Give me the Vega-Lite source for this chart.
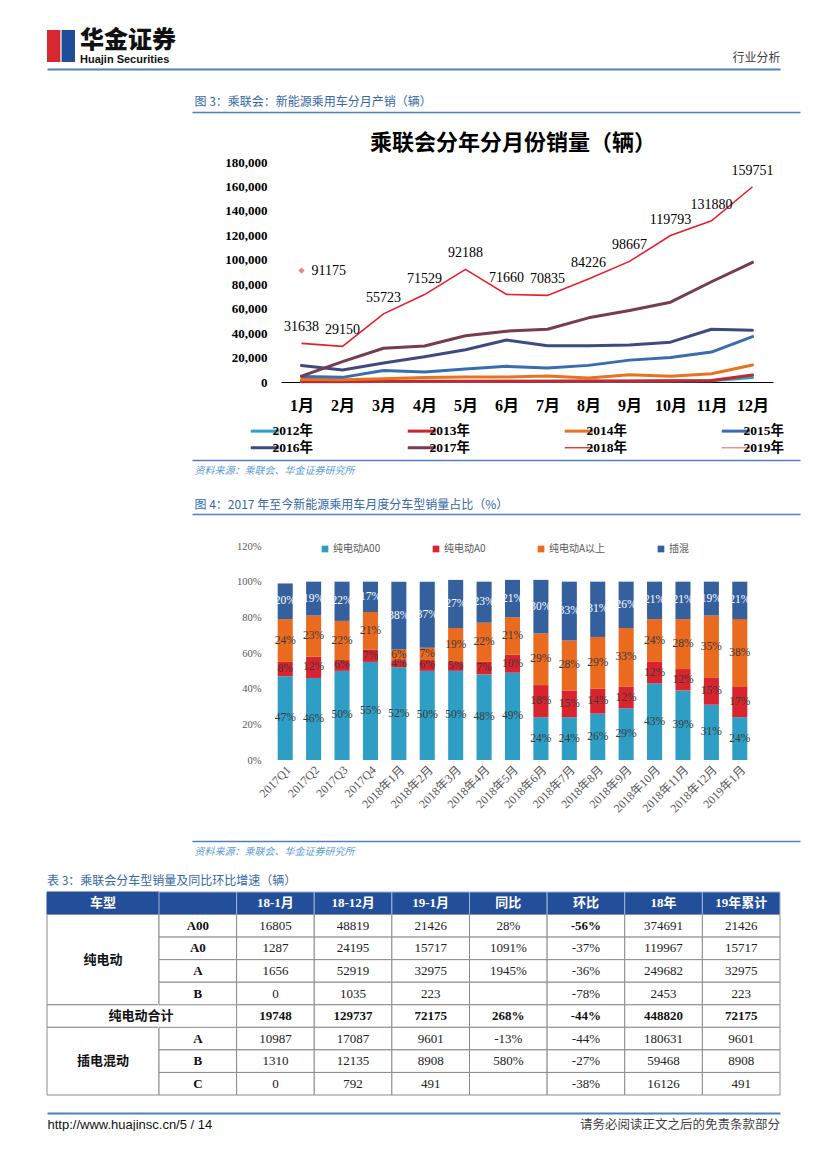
{
  "$schema": "https://vega.github.io/schema/vega-lite/v6.json",
  "background": "white",
  "padding": 0,
  "spacing": 0,
  "bounds": "flush",
  "config": {"view": {"stroke": null}, "axis": {"grid": false}},
  "resolve": {"scale": {"color": "independent", "fill": "independent"}, "legend": {"color": "independent"}},
  "datasets": {
    "lines": [
      {"year": "2012年", "month": "1月", "sales": 250}, {"year": "2012年", "month": "2月", "sales": 200}, {"year": "2012年", "month": "3月", "sales": 350}, {"year": "2012年", "month": "4月", "sales": 400}, {"year": "2012年", "month": "5月", "sales": 500}, {"year": "2012年", "month": "6月", "sales": 600}, {"year": "2012年", "month": "7月", "sales": 550}, {"year": "2012年", "month": "8月", "sales": 650}, {"year": "2012年", "month": "9月", "sales": 700}, {"year": "2012年", "month": "10月", "sales": 800}, {"year": "2012年", "month": "11月", "sales": 1100}, {"year": "2012年", "month": "12月", "sales": 3600},
      {"year": "2013年", "month": "1月", "sales": 450}, {"year": "2013年", "month": "2月", "sales": 350}, {"year": "2013年", "month": "3月", "sales": 550}, {"year": "2013年", "month": "4月", "sales": 650}, {"year": "2013年", "month": "5月", "sales": 550}, {"year": "2013年", "month": "6月", "sales": 650}, {"year": "2013年", "month": "7月", "sales": 700}, {"year": "2013年", "month": "8月", "sales": 800}, {"year": "2013年", "month": "9月", "sales": 850}, {"year": "2013年", "month": "10月", "sales": 950}, {"year": "2013年", "month": "11月", "sales": 1200}, {"year": "2013年", "month": "12月", "sales": 5800},
      {"year": "2014年", "month": "1月", "sales": 2000}, {"year": "2014年", "month": "2月", "sales": 1800}, {"year": "2014年", "month": "3月", "sales": 2700}, {"year": "2014年", "month": "4月", "sales": 3700}, {"year": "2014年", "month": "5月", "sales": 4000}, {"year": "2014年", "month": "6月", "sales": 4000}, {"year": "2014年", "month": "7月", "sales": 5000}, {"year": "2014年", "month": "8月", "sales": 3300}, {"year": "2014年", "month": "9月", "sales": 6000}, {"year": "2014年", "month": "10月", "sales": 4800}, {"year": "2014年", "month": "11月", "sales": 6800}, {"year": "2014年", "month": "12月", "sales": 13900},
      {"year": "2015年", "month": "1月", "sales": 4600}, {"year": "2015年", "month": "2月", "sales": 3800}, {"year": "2015年", "month": "3月", "sales": 9400}, {"year": "2015年", "month": "4月", "sales": 8200}, {"year": "2015年", "month": "5月", "sales": 10600}, {"year": "2015年", "month": "6月", "sales": 12800}, {"year": "2015年", "month": "7月", "sales": 11400}, {"year": "2015年", "month": "8月", "sales": 13600}, {"year": "2015年", "month": "9月", "sales": 17900}, {"year": "2015年", "month": "10月", "sales": 20100}, {"year": "2015年", "month": "11月", "sales": 24500}, {"year": "2015年", "month": "12月", "sales": 37200},
      {"year": "2016年", "month": "1月", "sales": 13500}, {"year": "2016年", "month": "2月", "sales": 9900}, {"year": "2016年", "month": "3月", "sales": 15500}, {"year": "2016年", "month": "4月", "sales": 20700}, {"year": "2016年", "month": "5月", "sales": 26400}, {"year": "2016年", "month": "6月", "sales": 34300}, {"year": "2016年", "month": "7月", "sales": 29600}, {"year": "2016年", "month": "8月", "sales": 29600}, {"year": "2016年", "month": "9月", "sales": 30200}, {"year": "2016年", "month": "10月", "sales": 32600}, {"year": "2016年", "month": "11月", "sales": 43200}, {"year": "2016年", "month": "12月", "sales": 42400},
      {"year": "2017年", "month": "1月", "sales": 4800}, {"year": "2017年", "month": "2月", "sales": 16700}, {"year": "2017年", "month": "3月", "sales": 27600}, {"year": "2017年", "month": "4月", "sales": 29400}, {"year": "2017年", "month": "5月", "sales": 37800}, {"year": "2017年", "month": "6月", "sales": 41600}, {"year": "2017年", "month": "7月", "sales": 43200}, {"year": "2017年", "month": "8月", "sales": 52500}, {"year": "2017年", "month": "9月", "sales": 58500}, {"year": "2017年", "month": "10月", "sales": 65300}, {"year": "2017年", "month": "11月", "sales": 82000}, {"year": "2017年", "month": "12月", "sales": 97900},
      {"year": "2018年", "month": "1月", "sales": 31638}, {"year": "2018年", "month": "2月", "sales": 29150}, {"year": "2018年", "month": "3月", "sales": 55723}, {"year": "2018年", "month": "4月", "sales": 71529}, {"year": "2018年", "month": "5月", "sales": 92188}, {"year": "2018年", "month": "6月", "sales": 71660}, {"year": "2018年", "month": "7月", "sales": 70835}, {"year": "2018年", "month": "8月", "sales": 84226}, {"year": "2018年", "month": "9月", "sales": 98667}, {"year": "2018年", "month": "10月", "sales": 119793}, {"year": "2018年", "month": "11月", "sales": 131880}, {"year": "2018年", "month": "12月", "sales": 159751},
      {"year": "2019年", "month": "1月", "sales": 91175}
    ],
    "bars": [
      {"period": "2017Q1", "type": "纯电动A00", "share": 0.47}, {"period": "2017Q1", "type": "纯电动A0", "share": 0.08}, {"period": "2017Q1", "type": "纯电动A以上", "share": 0.24}, {"period": "2017Q1", "type": "插混", "share": 0.20},
      {"period": "2017Q2", "type": "纯电动A00", "share": 0.46}, {"period": "2017Q2", "type": "纯电动A0", "share": 0.12}, {"period": "2017Q2", "type": "纯电动A以上", "share": 0.23}, {"period": "2017Q2", "type": "插混", "share": 0.19},
      {"period": "2017Q3", "type": "纯电动A00", "share": 0.50}, {"period": "2017Q3", "type": "纯电动A0", "share": 0.06}, {"period": "2017Q3", "type": "纯电动A以上", "share": 0.22}, {"period": "2017Q3", "type": "插混", "share": 0.22},
      {"period": "2017Q4", "type": "纯电动A00", "share": 0.55}, {"period": "2017Q4", "type": "纯电动A0", "share": 0.07}, {"period": "2017Q4", "type": "纯电动A以上", "share": 0.21}, {"period": "2017Q4", "type": "插混", "share": 0.17},
      {"period": "2018年1月", "type": "纯电动A00", "share": 0.52}, {"period": "2018年1月", "type": "纯电动A0", "share": 0.04}, {"period": "2018年1月", "type": "纯电动A以上", "share": 0.06}, {"period": "2018年1月", "type": "插混", "share": 0.38},
      {"period": "2018年2月", "type": "纯电动A00", "share": 0.50}, {"period": "2018年2月", "type": "纯电动A0", "share": 0.06}, {"period": "2018年2月", "type": "纯电动A以上", "share": 0.07}, {"period": "2018年2月", "type": "插混", "share": 0.37},
      {"period": "2018年3月", "type": "纯电动A00", "share": 0.50}, {"period": "2018年3月", "type": "纯电动A0", "share": 0.05}, {"period": "2018年3月", "type": "纯电动A以上", "share": 0.19}, {"period": "2018年3月", "type": "插混", "share": 0.27},
      {"period": "2018年4月", "type": "纯电动A00", "share": 0.48}, {"period": "2018年4月", "type": "纯电动A0", "share": 0.07}, {"period": "2018年4月", "type": "纯电动A以上", "share": 0.22}, {"period": "2018年4月", "type": "插混", "share": 0.23},
      {"period": "2018年5月", "type": "纯电动A00", "share": 0.49}, {"period": "2018年5月", "type": "纯电动A0", "share": 0.10}, {"period": "2018年5月", "type": "纯电动A以上", "share": 0.21}, {"period": "2018年5月", "type": "插混", "share": 0.21},
      {"period": "2018年6月", "type": "纯电动A00", "share": 0.24}, {"period": "2018年6月", "type": "纯电动A0", "share": 0.18}, {"period": "2018年6月", "type": "纯电动A以上", "share": 0.29}, {"period": "2018年6月", "type": "插混", "share": 0.30},
      {"period": "2018年7月", "type": "纯电动A00", "share": 0.24}, {"period": "2018年7月", "type": "纯电动A0", "share": 0.15}, {"period": "2018年7月", "type": "纯电动A以上", "share": 0.28}, {"period": "2018年7月", "type": "插混", "share": 0.33},
      {"period": "2018年8月", "type": "纯电动A00", "share": 0.26}, {"period": "2018年8月", "type": "纯电动A0", "share": 0.14}, {"period": "2018年8月", "type": "纯电动A以上", "share": 0.29}, {"period": "2018年8月", "type": "插混", "share": 0.31},
      {"period": "2018年9月", "type": "纯电动A00", "share": 0.29}, {"period": "2018年9月", "type": "纯电动A0", "share": 0.12}, {"period": "2018年9月", "type": "纯电动A以上", "share": 0.33}, {"period": "2018年9月", "type": "插混", "share": 0.26},
      {"period": "2018年10月", "type": "纯电动A00", "share": 0.43}, {"period": "2018年10月", "type": "纯电动A0", "share": 0.12}, {"period": "2018年10月", "type": "纯电动A以上", "share": 0.24}, {"period": "2018年10月", "type": "插混", "share": 0.21},
      {"period": "2018年11月", "type": "纯电动A00", "share": 0.39}, {"period": "2018年11月", "type": "纯电动A0", "share": 0.12}, {"period": "2018年11月", "type": "纯电动A以上", "share": 0.28}, {"period": "2018年11月", "type": "插混", "share": 0.21},
      {"period": "2018年12月", "type": "纯电动A00", "share": 0.31}, {"period": "2018年12月", "type": "纯电动A0", "share": 0.15}, {"period": "2018年12月", "type": "纯电动A以上", "share": 0.35}, {"period": "2018年12月", "type": "插混", "share": 0.19},
      {"period": "2019年1月", "type": "纯电动A00", "share": 0.24}, {"period": "2019年1月", "type": "纯电动A0", "share": 0.17}, {"period": "2019年1月", "type": "纯电动A以上", "share": 0.38}, {"period": "2019年1月", "type": "插混", "share": 0.21}
    ],
    "table": [
      {"row": "表头", "c1": "", "m1801": "18-1月", "m1812": "18-12月", "m1901": "19-1月", "yoy": "同比", "mom": "环比", "y18": "18年", "y19": "19年累计"},
      {"row": "纯电动A00", "c1": "A00", "m1801": "16805", "m1812": "48819", "m1901": "21426", "yoy": "28%", "mom": "-56%", "y18": "374691", "y19": "21426"},
      {"row": "纯电动A0", "c1": "A0", "m1801": "1287", "m1812": "24195", "m1901": "15717", "yoy": "1091%", "mom": "-37%", "y18": "119967", "y19": "15717"},
      {"row": "纯电动A", "c1": "A", "m1801": "1656", "m1812": "52919", "m1901": "32975", "yoy": "1945%", "mom": "-36%", "y18": "249682", "y19": "32975"},
      {"row": "纯电动B", "c1": "B", "m1801": "0", "m1812": "1035", "m1901": "223", "yoy": "", "mom": "-78%", "y18": "2453", "y19": "223"},
      {"row": "纯电动合计", "c1": "", "m1801": "19748", "m1812": "129737", "m1901": "72175", "yoy": "268%", "mom": "-44%", "y18": "448820", "y19": "72175"},
      {"row": "插电混动A", "c1": "A", "m1801": "10987", "m1812": "17087", "m1901": "9601", "yoy": "-13%", "mom": "-44%", "y18": "180631", "y19": "9601"},
      {"row": "插电混动B", "c1": "B", "m1801": "1310", "m1812": "12135", "m1901": "8908", "yoy": "580%", "mom": "-27%", "y18": "59468", "y19": "8908"},
      {"row": "插电混动C", "c1": "C", "m1801": "0", "m1812": "792", "m1901": "491", "yoy": "", "mom": "-38%", "y18": "16126", "y19": "491"}
    ],
    "groups": [
      {"g": "车型", "a": 0, "b": 1},
      {"g": "纯电动", "a": 1, "b": 5},
      {"g": "纯电动合计", "a": 5, "b": 6},
      {"g": "插电混动", "a": 6, "b": 9}
    ]
  },
  "vconcat": [
    {
      "width": 827, "height": 69,
      "title": {"text": "华金证券", "subtitle": "Huajin Securities", "anchor": "start", "frame": "group", "orient": "top", "offset": 0, "dx": 80, "dy": 65, "font": "Noto Sans CJK SC", "fontSize": 24, "fontWeight": 900, "color": "#111111", "subtitleFont": "Liberation Sans", "subtitleFontSize": 11, "subtitleFontWeight": "bold", "subtitleColor": "#111111", "subtitlePadding": 1},
      "layer": [
        {
          "data": {"values": [{"part": "左"}, {"part": "右"}]},
          "mark": {"type": "rect"},
          "encoding": {
            "x": {"field": "part", "type": "nominal", "scale": {"domain": ["左", "右"], "range": [47, 75], "paddingInner": 0.08, "paddingOuter": 0}, "axis": null},
            "y": {"datum": "logo", "type": "nominal", "scale": {"domain": ["logo"], "range": [30, 62], "paddingInner": 0, "paddingOuter": 0}, "axis": null},
            "fill": {"field": "part", "type": "nominal", "scale": {"domain": ["左", "右"], "range": ["#D7282F", "#1E4E97"]}, "legend": null}
          }
        },
        {
          "data": {"values": []},
          "mark": "rule",
          "encoding": {
            "x": {"field": "p", "type": "quantitative", "scale": {"domain": [0, 1], "range": [47, 780]},
              "axis": {"orient": "bottom", "domain": true, "domainColor": "#4F81BD", "domainWidth": 2, "ticks": false, "labels": false, "grid": false, "title": "行业分析", "titleX": 780, "titleY": -12, "titleAlign": "right", "titleBaseline": "middle", "titleAngle": 0, "titleFont": "Noto Sans CJK SC", "titleFontSize": 12, "titleFontWeight": "normal", "titleColor": "#404040"}}
          }
        }
      ],
      "resolve": {"scale": {"x": "independent"}}
    },
    {
      "width": 827, "height": 43,
      "data": {"values": []},
      "mark": "rule",
      "encoding": {
        "x": {"field": "p", "type": "quantitative", "scale": {"domain": [0, 1], "range": [192, 800]},
          "axis": {"orient": "bottom", "domain": true, "domainColor": "#4F81BD", "domainWidth": 1.5, "ticks": false, "labels": false, "grid": false, "title": "图 3：乘联会：新能源乘用车分月产销（辆）", "titleX": 194, "titleY": -11, "titleAlign": "left", "titleBaseline": "middle", "titleAngle": 0, "titleFont": "Noto Sans CJK SC", "titleFontSize": 12, "titleFontWeight": "normal", "titleColor": "#3567A8"}}
      }
    },
    {
      "width": 827, "height": 348,
      "title": {"text": "乘联会分年分月份销量（辆）", "anchor": "start", "frame": "group", "orient": "top", "offset": 0, "dx": 370, "dy": 65, "baseline": "bottom", "font": "Noto Sans CJK SC", "fontSize": 22, "fontWeight": "bold", "color": "#000000"},
      "data": {"name": "lines"},
      "encoding": {
        "x": {"field": "month", "type": "ordinal", "sort": null,
          "scale": {"type": "point", "domain": ["1月", "2月", "3月", "4月", "5月", "6月", "7月", "8月", "9月", "10月", "11月", "12月"], "range": [281, 773], "padding": 0.5},
          "axis": {"orient": "bottom", "offset": -78, "domain": true, "domainColor": "#000000", "domainWidth": 1, "ticks": false, "grid": false, "labelAngle": 0, "labelFont": "Liberation Serif, Noto Sans CJK SC", "labelFontSize": 16, "labelFontWeight": "bold", "labelColor": "#000000", "labelPadding": 15, "title": null}},
        "y": {"field": "sales", "type": "quantitative",
          "scale": {"domain": [0, 180000], "range": [270, 50], "nice": false},
          "axis": {"orient": "left", "offset": -270, "values": [0, 20000, 40000, 60000, 80000, 100000, 120000, 140000, 160000, 180000], "format": ",.0f", "ticks": false, "domain": false, "grid": false, "labelFont": "Liberation Serif", "labelFontSize": 13, "labelFontWeight": "bold", "labelColor": "#000000", "labelPadding": 3, "title": null}}
      },
      "layer": [
        {
          "transform": [{"filter": "datum.year !== '2018年' && datum.year !== '2019年'"}],
          "mark": {"type": "line", "strokeWidth": 3, "strokeJoin": "round", "strokeCap": "round"},
          "encoding": {
            "color": {"field": "year", "type": "nominal",
              "scale": {"domain": ["2012年", "2013年", "2014年", "2015年", "2016年", "2017年", "2018年", "2019年"], "range": ["#2E9FC6", "#C8252C", "#E8731F", "#3A6DB0", "#404A7E", "#773C4E", "#E5202A", "#E8848E"]},
              "legend": {"orient": "none", "legendX": 258, "legendY": 312, "columns": 4, "direction": "horizontal", "title": null, "padding": 0, "symbolType": "stroke", "symbolSize": 784, "symbolStrokeWidth": 3, "labelFont": "Liberation Serif, Noto Sans CJK SC", "labelFontSize": 13.5, "labelFontWeight": "bold", "labelColor": "#000000", "labelOffset": 1, "columnPadding": 88, "rowPadding": 2,
                "encode": {"symbols": {"update": {"strokeWidth": {"signal": "datum.label === '2018年' || datum.label === '2019年' ? 1.3 : 3"}}}}}}
          }
        },
        {
          "transform": [{"filter": "datum.year === '2018年'"}],
          "mark": {"type": "line", "strokeWidth": 1.6},
          "encoding": {"color": {"field": "year", "type": "nominal"}}
        },
        {
          "transform": [{"filter": "datum.year === '2018年'"}],
          "mark": {"type": "text", "dy": -16, "baseline": "middle", "font": "Liberation Serif", "fontSize": 14, "color": "#000000"},
          "encoding": {"text": {"field": "sales", "type": "quantitative", "format": "d"}}
        },
        {
          "transform": [{"filter": "datum.year === '2019年'"}],
          "mark": {"type": "point", "shape": "diamond", "filled": true, "size": 40, "opacity": 1},
          "encoding": {"color": {"field": "year", "type": "nominal"}}
        },
        {
          "transform": [{"filter": "datum.year === '2019年'"}],
          "mark": {"type": "text", "align": "left", "dx": 10, "baseline": "middle", "font": "Liberation Serif", "fontSize": 14, "color": "#000000"},
          "encoding": {"text": {"field": "sales", "type": "quantitative", "format": "d"}}
        }
      ]
    },
    {
      "width": 827, "height": 30,
      "data": {"values": []},
      "mark": "rule",
      "encoding": {
        "x": {"field": "p", "type": "quantitative", "scale": {"domain": [0, 1], "range": [192, 800]},
          "axis": {"orient": "top", "domain": true, "domainColor": "#4F81BD", "domainWidth": 1.5, "ticks": false, "labels": false, "grid": false, "title": "资料来源：乘联会、华金证券研究所", "titleX": 194, "titleY": 10, "titleAlign": "left", "titleBaseline": "middle", "titleAngle": 0, "titleFont": "Noto Sans CJK SC", "titleFontSize": 10, "titleFontWeight": "normal", "titleFontStyle": "italic", "titleColor": "#5B9BD5"}}
      }
    },
    {
      "width": 827, "height": 24,
      "data": {"values": []},
      "mark": "rule",
      "encoding": {
        "x": {"field": "p", "type": "quantitative", "scale": {"domain": [0, 1], "range": [192, 800]},
          "axis": {"orient": "bottom", "domain": true, "domainColor": "#4F81BD", "domainWidth": 1.5, "ticks": false, "labels": false, "grid": false, "title": "图 4：2017 年至今新能源乘用车月度分车型销量占比（%）", "titleX": 194, "titleY": -10, "titleAlign": "left", "titleBaseline": "middle", "titleAngle": 0, "titleFont": "Noto Sans CJK SC", "titleFontSize": 12, "titleFontWeight": "normal", "titleColor": "#3567A8"}}
      }
    },
    {
      "width": 827, "height": 327,
      "data": {"name": "bars"},
      "transform": [{"stack": "share", "groupby": ["period"], "as": ["s0", "s1"]}],
      "encoding": {
        "x": {"field": "period", "type": "nominal", "sort": null,
          "scale": {"domain": ["2017Q1", "2017Q2", "2017Q3", "2017Q4", "2018年1月", "2018年2月", "2018年3月", "2018年4月", "2018年5月", "2018年6月", "2018年7月", "2018年8月", "2018年9月", "2018年10月", "2018年11月", "2018年12月", "2019年1月"], "range": [271, 754], "paddingInner": 0.47, "paddingOuter": 0.235},
          "axis": {"orient": "bottom", "offset": -81, "domain": false, "ticks": false, "grid": false, "labelAngle": -45, "labelFont": "Liberation Serif, Noto Sans CJK SC", "labelFontSize": 12, "labelColor": "#595959", "labelPadding": 4, "title": null}}
      },
      "layer": [
        {
          "mark": {"type": "bar"},
          "encoding": {
            "y": {"field": "s0", "type": "quantitative", "scale": {"domain": [0, 1.2], "range": [246, 32], "nice": false},
              "axis": {"orient": "left", "offset": -263, "values": [0, 0.2, 0.4, 0.6, 0.8, 1, 1.2], "format": ".0%", "ticks": false, "domain": false, "grid": false, "labelFont": "Liberation Serif", "labelFontSize": 10.5, "labelColor": "#595959", "labelPadding": 2, "title": null}},
            "y2": {"field": "s1"},
            "color": {"field": "type", "type": "nominal",
              "scale": {"domain": ["纯电动A00", "纯电动A0", "纯电动A以上", "插混"], "range": ["#2E9EC4", "#D9232E", "#EA6A1F", "#35609E"]},
              "legend": {"orient": "none", "legendX": 320, "legendY": 30, "direction": "horizontal", "title": null, "padding": 0, "symbolType": "square", "symbolSize": 45, "labelFont": "Noto Sans CJK SC", "labelFontSize": 10, "labelColor": "#595959", "labelOffset": 3, "columnPadding": 50}}
          }
        },
        {
          "transform": [
            {"fold": ["s0", "s1"], "as": ["edge", "pos"]},
            {"aggregate": [{"op": "mean", "field": "pos", "as": "mid"}], "groupby": ["period", "type", "share"]}
          ],
          "mark": {"type": "text", "baseline": "middle", "font": "Liberation Serif", "fontSize": 11.5},
          "encoding": {
            "y": {"field": "mid", "type": "quantitative"},
            "text": {"field": "share", "type": "quantitative", "format": ".0%"},
            "fill": {"condition": {"test": "datum.type === '插混'", "value": "#FFFFFF"}, "value": "#3A3A3A"}
          }
        }
      ]
    },
    {
      "width": 827, "height": 51,
      "data": {"values": []},
      "mark": "rule",
      "encoding": {
        "x": {"field": "p", "type": "quantitative", "scale": {"domain": [0, 1], "range": [192, 800]},
          "axis": {"orient": "top", "domain": true, "domainColor": "#4F81BD", "domainWidth": 1.5, "ticks": false, "labels": false, "grid": false, "title": "资料来源：乘联会、华金证券研究所", "titleX": 194, "titleY": 10, "titleAlign": "left", "titleBaseline": "middle", "titleAngle": 0, "titleFont": "Noto Sans CJK SC", "titleFontSize": 10, "titleFontWeight": "normal", "titleFontStyle": "italic", "titleColor": "#5B9BD5"}}
      }
    },
    {
      "width": 827, "height": 203,
      "title": {"text": "表 3：乘联会分车型销量及同比环比增速（辆）", "anchor": "start", "frame": "group", "orient": "top", "offset": 6, "dx": 47, "dy": 14, "baseline": "bottom", "font": "Noto Sans CJK SC", "fontSize": 12, "fontWeight": "normal", "color": "#3567A8"},
      "layer": [
        {
          "data": {"name": "groups"},
          "mark": {"type": "rect", "strokeWidth": 1},
          "encoding": {
            "x": {"datum": "车型", "type": "nominal", "scale": {"domain": ["车型"], "range": [47, 159], "paddingInner": 0, "paddingOuter": 0}, "axis": null},
            "y": {"field": "a", "type": "quantitative", "scale": {"domain": [0, 9], "range": [0, 203], "nice": false, "zero": false}, "axis": null},
            "y2": {"field": "b"},
            "fill": {"condition": {"test": "datum.g === '车型'", "value": "#234E99"}, "value": "#FFFFFF"},
            "stroke": {"condition": {"test": "datum.g === '车型'", "value": "#234E99"}, "value": "#8C8C8C"}
          }
        },
        {
          "data": {"values": [{}]},
          "mark": {"type": "rect", "fill": "#FFFFFF", "stroke": "#FFFFFF", "strokeWidth": 2},
          "encoding": {
            "x": {"datum": "c1", "type": "nominal", "scale": {"domain": ["c1", "m1801", "m1812", "m1901", "yoy", "mom", "y18", "y19"], "range": [159, 780], "paddingInner": 0, "paddingOuter": 0}, "axis": null},
            "y": {"datum": "纯电动合计", "type": "nominal", "scale": {"domain": ["表头", "纯电动A00", "纯电动A0", "纯电动A", "纯电动B", "纯电动合计", "插电混动A", "插电混动B", "插电混动C"], "range": [0, 203], "paddingInner": 0, "paddingOuter": 0}, "axis": null}
          }
        },
        {
          "data": {"name": "table"},
          "transform": [
            {"fold": ["c1", "m1801", "m1812", "m1901", "yoy", "mom", "y18", "y19"], "as": ["col", "text"]},
            {"filter": "!(datum.row === '纯电动合计' && datum.col === 'c1')"}
          ],
          "mark": {"type": "rect", "strokeWidth": 1},
          "encoding": {
            "x": {"field": "col", "type": "nominal", "scale": {"domain": ["c1", "m1801", "m1812", "m1901", "yoy", "mom", "y18", "y19"], "range": [159, 780], "paddingInner": 0, "paddingOuter": 0}, "axis": null},
            "y": {"field": "row", "type": "nominal", "scale": {"domain": ["表头", "纯电动A00", "纯电动A0", "纯电动A", "纯电动B", "纯电动合计", "插电混动A", "插电混动B", "插电混动C"], "range": [0, 203], "paddingInner": 0, "paddingOuter": 0}, "axis": null},
            "fill": {"condition": {"test": "datum.row === '表头'", "value": "#234E99"}, "value": "#FFFFFF"},
            "stroke": {"condition": {"test": "datum.row === '表头'", "value": "#9FB3D9"}, "value": "#8C8C8C"}
          }
        },
        {
          "data": {"name": "table"},
          "transform": [
            {"fold": ["c1", "m1801", "m1812", "m1901", "yoy", "mom", "y18", "y19"], "as": ["col", "text"]},
            {"filter": "!(datum.row === '表头' || datum.row === '纯电动合计' || datum.col === 'c1' || datum.text === '-56%')"}
          ],
          "mark": {"type": "text", "baseline": "middle", "align": "center", "font": "Liberation Serif, Noto Sans CJK SC", "fontSize": 13, "color": "#222222"},
          "encoding": {
            "x": {"field": "col", "type": "nominal", "scale": {"domain": ["c1", "m1801", "m1812", "m1901", "yoy", "mom", "y18", "y19"], "range": [159, 780], "paddingInner": 0, "paddingOuter": 0}, "axis": null},
            "y": {"field": "row", "type": "nominal", "scale": {"domain": ["表头", "纯电动A00", "纯电动A0", "纯电动A", "纯电动B", "纯电动合计", "插电混动A", "插电混动B", "插电混动C"], "range": [0, 203], "paddingInner": 0, "paddingOuter": 0}, "axis": null},
            "text": {"field": "text", "type": "nominal"}
          }
        },
        {
          "data": {"name": "table"},
          "transform": [
            {"fold": ["c1", "m1801", "m1812", "m1901", "yoy", "mom", "y18", "y19"], "as": ["col", "text"]},
            {"filter": "datum.row === '表头' || datum.row === '纯电动合计' || datum.col === 'c1' || datum.text === '-56%'"}
          ],
          "mark": {"type": "text", "baseline": "middle", "align": "center", "font": "Liberation Serif, Noto Sans CJK SC", "fontSize": 13, "fontWeight": "bold"},
          "encoding": {
            "x": {"field": "col", "type": "nominal", "scale": {"domain": ["c1", "m1801", "m1812", "m1901", "yoy", "mom", "y18", "y19"], "range": [159, 780], "paddingInner": 0, "paddingOuter": 0}, "axis": null},
            "y": {"field": "row", "type": "nominal", "scale": {"domain": ["表头", "纯电动A00", "纯电动A0", "纯电动A", "纯电动B", "纯电动合计", "插电混动A", "插电混动B", "插电混动C"], "range": [0, 203], "paddingInner": 0, "paddingOuter": 0}, "axis": null},
            "text": {"field": "text", "type": "nominal"},
            "fill": {"condition": {"test": "datum.row === '表头'", "value": "#FFFFFF"}, "value": "#111111"}
          }
        },
        {
          "data": {"name": "groups"},
          "transform": [
            {"filter": "datum.g !== '纯电动合计'"},
            {"fold": ["a", "b"], "as": ["edge", "pos"]},
            {"aggregate": [{"op": "mean", "field": "pos", "as": "mid"}], "groupby": ["g"]}
          ],
          "mark": {"type": "text", "baseline": "middle", "align": "center", "font": "Noto Sans CJK SC", "fontSize": 13, "fontWeight": "bold"},
          "encoding": {
            "x": {"datum": "车型", "type": "nominal", "scale": {"domain": ["车型"], "range": [47, 159], "paddingInner": 0, "paddingOuter": 0}, "axis": null},
            "y": {"field": "mid", "type": "quantitative", "scale": {"domain": [0, 9], "range": [0, 203], "nice": false, "zero": false}, "axis": null},
            "text": {"field": "g", "type": "nominal"},
            "fill": {"condition": {"test": "datum.g === '车型'", "value": "#FFFFFF"}, "value": "#111111"}
          }
        },
        {
          "data": {"name": "groups"},
          "transform": [
            {"filter": "datum.g === '纯电动合计'"},
            {"fold": ["a", "b"], "as": ["edge", "pos"]},
            {"aggregate": [{"op": "mean", "field": "pos", "as": "mid"}], "groupby": ["g"]}
          ],
          "mark": {"type": "text", "baseline": "middle", "align": "center", "dx": 38, "font": "Noto Sans CJK SC", "fontSize": 13, "fontWeight": "bold", "color": "#111111"},
          "encoding": {
            "x": {"datum": "车型", "type": "nominal", "scale": {"domain": ["车型"], "range": [47, 159], "paddingInner": 0, "paddingOuter": 0}, "axis": null},
            "y": {"field": "mid", "type": "quantitative", "scale": {"domain": [0, 9], "range": [0, 203], "nice": false, "zero": false}, "axis": null},
            "text": {"field": "g", "type": "nominal"}
          }
        }
      ],
      "resolve": {"scale": {"x": "independent", "y": "independent"}}
    },
    {
      "width": 827, "height": 18,
      "title": {"text": "请务必阅读正文之后的免责条款部分", "anchor": "end", "frame": "group", "orient": "top", "offset": 0, "dx": -47, "dy": 49, "baseline": "bottom", "font": "Noto Sans CJK SC", "fontSize": 12.5, "fontWeight": "normal", "color": "#404040"},
      "data": {"values": []},
      "mark": "rule",
      "encoding": {
        "x": {"field": "p", "type": "quantitative", "scale": {"domain": [0, 1], "range": [47, 780]},
          "axis": {"orient": "bottom", "domain": true, "domainColor": "#4F81BD", "domainWidth": 2, "ticks": false, "labels": false, "grid": false, "title": "http://www.huajinsc.cn/5 / 14", "titleX": 47, "titleY": 11, "titleAlign": "left", "titleBaseline": "middle", "titleAngle": 0, "titleFont": "Liberation Sans Narrow, Liberation Sans", "titleFontSize": 13, "titleFontWeight": "normal", "titleColor": "#111111"}}
      }
    }
  ]
}
